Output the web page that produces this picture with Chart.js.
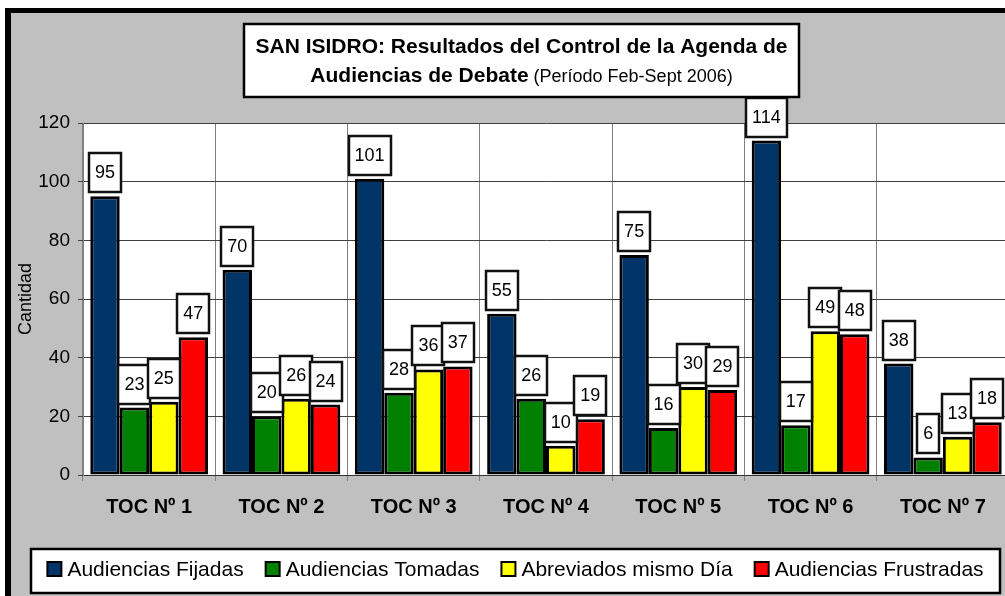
<!DOCTYPE html>
<html>
<head>
<meta charset="utf-8">
<script src="https://cdn.jsdelivr.net/npm/chart.js@4/dist/chart.umd.min.js"></script>
<style>
  html, body { margin: 0; padding: 0; overflow: hidden; background: #ffffff; }
  #wrap { position: absolute; left: 0; top: 0; width: 1020px; height: 596px; }
</style>
</head>
<body>
<div id="wrap"><canvas id="c" width="1020" height="596"></canvas></div>
<script>
// ---- data ----
const categories = ["TOC Nº 1", "TOC Nº 2", "TOC Nº 3", "TOC Nº 4", "TOC Nº 5", "TOC Nº 6", "TOC Nº 7"];
const seriesNames = ["Audiencias Fijadas", "Audiencias Tomadas", "Abreviados mismo Día", "Audiencias Frustradas"];
const fijadas     = [95, 70, 101, 55, 75, 114, 38];
const tomadas     = [23, 20, 28, 26, 16, 17, 6];
const abreviados  = [25, 26, 36, 10, 30, 49, 13];
const frustradas  = [47, 24, 37, 19, 29, 48, 18];
const yTicks      = [0, 20, 40, 60, 80, 100, 120];
const titleLine1  = "SAN ISIDRO: Resultados del Control de la Agenda de";
const titleLine2a = "Audiencias de Debate";
const titleLine2b = " (Período Feb-Sept 2006)";
const yTitle      = "Cantidad";

const FONT = "'Liberation Sans', Arial, Helvetica, sans-serif";
const colors = ["#003366", "#008000", "#ffff00", "#ff0000"];

const bgPlugin = {
  id: 'bg',
  beforeDraw(chart) {
    const ctx = chart.ctx, W = chart.width, H = chart.height;
    ctx.save();
    ctx.fillStyle = '#ffffff';
    ctx.fillRect(0, 0, W, H);
    ctx.fillStyle = '#000000';
    ctx.fillRect(5, 8, W, H);
    ctx.fillStyle = '#c0c0c0';
    ctx.fillRect(11, 13, W, H);
    const a = chart.chartArea;
    ctx.fillStyle = '#ffffff';
    ctx.fillRect(a.left, a.top, a.right - a.left, a.bottom - a.top);
    ctx.restore();
  }
};

const labelPlugin = {
  id: 'valueBoxes',
  afterDatasetsDraw(chart) {
    const ctx = chart.ctx;
    ctx.save();
    ctx.font = '18px ' + FONT;
    ctx.textAlign = 'center';
    ctx.textBaseline = 'middle';
    chart.data.datasets.forEach((ds, di) => {
      const meta = chart.getDatasetMeta(di);
      meta.data.forEach((el, i) => {
        const txt = String(ds.data[i]);
        const tw = ctx.measureText(txt).width;
        const w = Math.round(tw + 12);
        const h = 39;
        const bottom = Math.round(el.y) - 4;
        const top = bottom - h;
        const left = Math.round(el.x - w / 2);
        ctx.fillStyle = '#ffffff';
        ctx.fillRect(left, top, w, h);
        ctx.lineWidth = 2.5;
        ctx.strokeStyle = '#111111';
        ctx.strokeRect(left, top, w, h);
        ctx.fillStyle = '#000000';
        ctx.fillText(txt, el.x, top + h / 2 + 1);
      });
    });
    ctx.restore();
  }
};

const titleLegendPlugin = {
  id: 'titleLegend',
  afterDraw(chart) {
    const ctx = chart.ctx;
    ctx.save();
    // Title box
    const bx = 244, by = 24, bw = 555, bh = 73;
    ctx.fillStyle = '#ffffff';
    ctx.fillRect(bx, by, bw, bh);
    ctx.lineWidth = 2.5;
    ctx.strokeStyle = '#000000';
    ctx.strokeRect(bx, by, bw, bh);
    const cx = bx + bw / 2;
    ctx.fillStyle = '#000000';
    ctx.textBaseline = 'alphabetic';
    ctx.textAlign = 'center';
    ctx.font = 'bold 21px ' + FONT;
    ctx.fillText(titleLine1, cx, 53);
    ctx.font = 'bold 21px ' + FONT;
    const wa = ctx.measureText(titleLine2a).width;
    ctx.font = '18px ' + FONT;
    const wb = ctx.measureText(titleLine2b).width;
    const sx = cx - (wa + wb) / 2;
    ctx.textAlign = 'left';
    ctx.font = 'bold 21px ' + FONT;
    ctx.fillText(titleLine2a, sx, 82);
    ctx.font = '18px ' + FONT;
    ctx.fillText(titleLine2b, sx + wa, 82);

    // Legend box
    const lx = 31, ly = 549, lw = 969, lh = 44;
    ctx.fillStyle = '#ffffff';
    ctx.fillRect(lx, ly, lw, lh);
    ctx.lineWidth = 2.5;
    ctx.strokeStyle = '#000000';
    ctx.strokeRect(lx, ly, lw, lh);
    ctx.font = '21px ' + FONT;
    const sq = 14, gapText = 6, gapItem = 22;
    const widths = chart.data.datasets.map(d => ctx.measureText(d.label).width);
    let total = 0;
    widths.forEach((w, i) => { total += sq + gapText + w + (i < widths.length - 1 ? gapItem : 0); });
    let x = lx + lw / 2 - total / 2;
    chart.data.datasets.forEach((d, i) => {
      ctx.fillStyle = d.backgroundColor;
      ctx.fillRect(x, 562, sq, sq);
      ctx.lineWidth = 2;
      ctx.strokeStyle = '#000000';
      ctx.strokeRect(x, 562, sq, sq);
      ctx.fillStyle = '#000000';
      ctx.textAlign = 'left';
      ctx.fillText(d.label, x + sq + gapText, 576);
      x += sq + gapText + widths[i] + gapItem;
    });
    ctx.restore();
  }
};

const ctx = document.getElementById('c').getContext('2d');
new Chart(ctx, {
  type: 'bar',
  data: {
    labels: categories,
    datasets: [fijadas, tomadas, abreviados, frustradas].map((arr, i) => ({
      label: seriesNames[i],
      data: arr,
      backgroundColor: colors[i],
      borderColor: '#000000',
      borderWidth: 3,
      borderSkipped: false,
      categoryPercentage: 0.89,
      barPercentage: 1.0
    }))
  },
  options: {
    responsive: false,
    animation: false,
    devicePixelRatio: 1,
    layout: { padding: { top: 123, left: 0, right: 11, bottom: 0 } },
    plugins: {
      legend: { display: false },
      title: { display: false },
      tooltip: { enabled: false }
    },
    scales: {
      x: {
        offset: true,
        grid: { offset: true, color: '#808080', lineWidth: 1, tickLength: 6, drawTicks: true },
        border: { color: '#303030', width: 1 },
        ticks: { color: '#000000', font: { family: FONT, size: 20, weight: 'bold' }, padding: 14, maxRotation: 0, autoSkip: false },
        afterFit(scale) { scale.height = 121; }
      },
      y: {
        min: 0, max: 120,
        afterBuildTicks(scale) { scale.ticks = yTicks.map(v => ({ value: v })); },
        grid: { color: '#404040', lineWidth: 1, tickLength: 5, drawTicks: true },
        border: { color: '#808080', width: 1 },
        ticks: { color: '#000000', font: { family: FONT, size: 19 }, padding: 8 },
        title: { display: true, text: yTitle, color: '#000000', font: { family: FONT, size: 18 }, padding: { top: 15, bottom: 0 } },
        afterFit(scale) { scale.width = 83; }
      }
    }
  },
  plugins: [bgPlugin, labelPlugin, titleLegendPlugin]
});
</script>
</body>
</html>
